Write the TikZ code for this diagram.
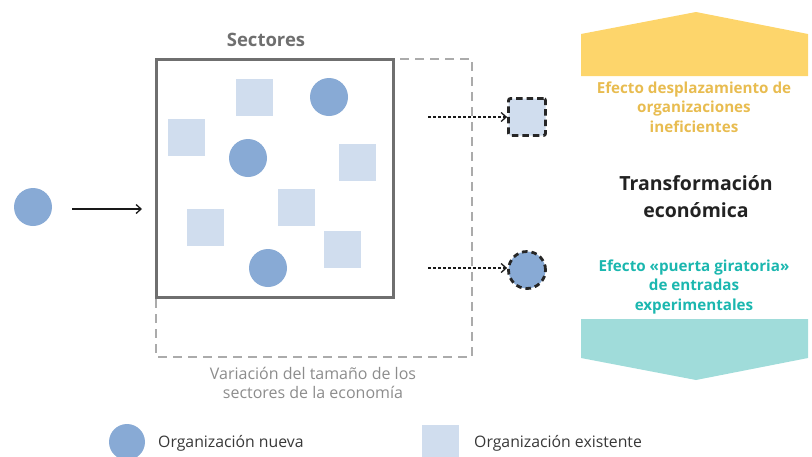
\documentclass[tikz,border=0pt]{standalone}
\usepackage{fontspec}
\setmainfont{Open Sans}
\usetikzlibrary{arrows.meta}
\definecolor{neworg}{HTML}{88AAD5}
\definecolor{oldorg}{HTML}{D0DDEE}
\definecolor{boxgray}{HTML}{6F6F6F}
\definecolor{dashgray}{HTML}{ABABAB}
\definecolor{yelfill}{HTML}{FDD56B}
\definecolor{yeltext}{HTML}{E8BC50}
\definecolor{tealfill}{HTML}{A0DCDA}
\definecolor{tealtext}{HTML}{1BB7AF}
\definecolor{txtgray}{HTML}{8C8C8C}
\definecolor{darktxt}{HTML}{222222}
\begin{document}
\begin{tikzpicture}[x=1pt,y=-1pt,
  neworgnode/.style={circle,fill=neworg,minimum size=38pt,inner sep=0pt},
  oldorgnode/.style={rectangle,fill=oldorg,minimum size=37pt,inner sep=0pt},
  exitsq/.style={rectangle,fill=oldorg,draw=black!85,line width=2.8pt,dash pattern=on 6.5pt off 4pt,rounded corners=2pt,minimum size=37pt,inner sep=0pt},
  exitcirc/.style={circle,fill=neworg,draw=black!85,line width=2.8pt,dash pattern=on 5.5pt off 4pt,minimum size=37pt,inner sep=0pt},
  solidarr/.style={draw=black!90,line width=1.3pt,-{Straight Barb[length=5pt,width=9pt]}},
  dotarr/.style={draw=black!90,line width=1.3pt,dash pattern=on 3pt off 2pt,-{Straight Barb[length=5pt,width=9pt]}},
  boldlbl/.style={font=\bfseries,align=center,inner sep=0pt},
  lbl/.style={align=center,inner sep=0pt}
]
\useasboundingbox (0,0) rectangle (812,456);
% dashed enlarged sector
\draw[dashgray,line width=2.2pt,dash pattern=on 9pt off 6pt] (156,59) rectangle (472,357);
% solid sector box
\node[draw=boxgray,fill=white,line width=3pt,minimum width=237pt,minimum height=238pt,inner sep=0pt] (sect) at (274.5,178) {};
\node[boldlbl,text=boxgray,font=\fontsize{18.5}{22}\selectfont\bfseries] (sectlbl) at (266,40) {Sectores};
% existing organizations
\node[oldorgnode] (s1) at (254,97) {};
\node[oldorgnode] (s2) at (186,137) {};
\node[oldorgnode] (s3) at (357,162) {};
\node[oldorgnode] (s4) at (296,207) {};
\node[oldorgnode] (s5) at (205,227) {};
\node[oldorgnode] (s6) at (342,249) {};
% new organizations
\node[neworgnode] (c1) at (329,97) {};
\node[neworgnode] (c2) at (248,158) {};
\node[neworgnode] (c3) at (268,268) {};
\node[neworgnode] (c0) at (33,207) {};
% entry arrow
\coordinate (entryend) at (142,209);
\draw[solidarr] (72,209) coordinate (entrystart) -- (entryend);
% exits
\node[exitsq] (xs) at (527,117) {};
\node[exitcirc] (xc) at (527,270) {};
\coordinate (xsstart) at (428,117);
\coordinate (xcstart) at (428,268);
\draw[dotarr] (xsstart) -- (xs.west);
\draw[dotarr] (xcstart) -- (xc.west |- xcstart);
% size variation label
\node[lbl,text=txtgray,font=\fontsize{16}{18.5}\selectfont] (varlbl) at (313,383) {Variaci\'on del tama\~no de los\\sectores de la econom\'ia};
% yellow arrow
\fill[yelfill] (581,76) -- (581,34) -- (696,12) -- (808,34) -- (808,76) -- cycle;
\node[boldlbl,text=yeltext,font=\fontsize{15.2}{19.5}\selectfont\bfseries] (yellbl) at (694,107) {Efecto desplazamiento de\\organizaciones\\ineficientes};
% teal arrow
\fill[tealfill] (581,319) -- (808,319) -- (808,358) -- (696,380) -- (581,358) -- cycle;
\node[boldlbl,text=tealtext,font=\fontsize{15.2}{19.5}\selectfont\bfseries] (teallbl) at (694,287) {Efecto «puerta giratoria»\\de entradas\\experimentales};
% central label
\node[boldlbl,text=darktxt,font=\fontsize{19.5}{27}\selectfont\bfseries] (translbl) at (696,197) {Transformaci\'on\\econ\'omica};
% legend
\node[neworgnode,minimum size=36pt] (legc) at (127,442) {};
\node[lbl,anchor=west,text=darktxt!90,font=\fontsize{15.8}{18}\selectfont] (legctxt) at (158,443) {Organizaci\'on nueva};
\node[oldorgnode] (legs) at (440,443) {};
\node[lbl,anchor=west,text=darktxt!90,font=\fontsize{15.8}{18}\selectfont] (legstxt) at (474,443) {Organizaci\'on existente};
\end{tikzpicture}
\end{document}
